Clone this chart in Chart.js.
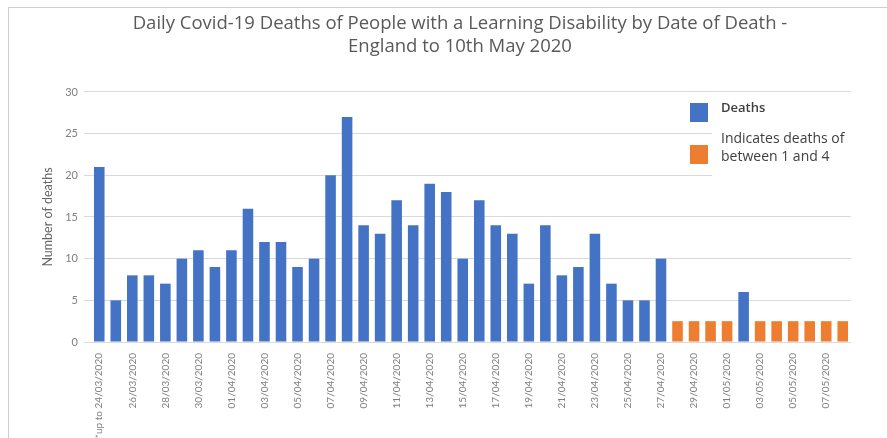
<!DOCTYPE html>
<html>
<head>
<meta charset="utf-8">
<script src="https://cdn.jsdelivr.net/npm/chart.js@4.4.1/dist/chart.umd.min.js"></script>
<style>
  html, body { margin:0; padding:0; background:#fff; }
  #wrap { position:relative; width:887px; height:438px; overflow:hidden; }
  #chart { position:absolute; left:0; top:0; }
  .frame-top { position:absolute; left:8px; top:7px; width:879px; height:1px; background:#cfcfcf; }
  .frame-left { position:absolute; left:8px; top:7px; width:1px; height:431px; background:#cfcfcf; }
  #legend { position:absolute; left:712px; top:95px; width:165px; height:95px; background:#fff;
            font-family:'Open Sans', Lato, sans-serif; font-size:14px; color:#404040; }
  #legend .item { position:absolute; left:9px; line-height:18px; }
  #legend .sw { position:absolute; left:-31px; width:18px; height:19px; }
</style>
</head>
<body>
<div id="wrap">
  <canvas id="chart" width="887" height="438"></canvas>
  <div class="frame-top"></div>
  <div class="frame-left"></div>
  <div id="legend"></div>
</div>
<script>
// ---- data ----
const days = [
  '*up to 24/03/2020','25/03/2020','26/03/2020','27/03/2020','28/03/2020','29/03/2020','30/03/2020','31/03/2020',
  '01/04/2020','02/04/2020','03/04/2020','04/04/2020','05/04/2020','06/04/2020','07/04/2020','08/04/2020',
  '09/04/2020','10/04/2020','11/04/2020','12/04/2020','13/04/2020','14/04/2020','15/04/2020','16/04/2020',
  '17/04/2020','18/04/2020','19/04/2020','20/04/2020','21/04/2020','22/04/2020','23/04/2020','24/04/2020',
  '25/04/2020','26/04/2020','27/04/2020','28/04/2020','29/04/2020','30/04/2020','01/05/2020','02/05/2020',
  '03/05/2020','04/05/2020','05/05/2020','06/05/2020','07/05/2020','08/05/2020'
];
const deaths = [
  21, 5, 8, 8, 7, 10, 11, 9,
  11, 16, 12, 12, 9, 10, 20, 27,
  14, 13, 17, 14, 19, 18, 10, 17,
  14, 13, 7, 14, 8, 9, 13, 7,
  5, 5, 10, null, null, null, null, 6,
  null, null, null, null, null, null
];
// suppressed days (1-4 deaths) drawn as a fixed marker height
const smallDays = [
  null, null, null, null, null, null, null, null,
  null, null, null, null, null, null, null, null,
  null, null, null, null, null, null, null, null,
  null, null, null, null, null, null, null, null,
  null, null, null, 2.5, 2.5, 2.5, 2.5, null,
  2.5, 2.5, 2.5, 2.5, 2.5, 2.5
];
const yTicks = [0, 5, 10, 15, 20, 25, 30];

const BLUE = '#4472C4', ORANGE = '#ED7D31';
const FONT = "'Open Sans', Lato, sans-serif";

const ds = [
  { label:'Deaths', data:deaths, backgroundColor:BLUE },
  { label:'Indicates deaths of between 1 and 4', data:smallDays, backgroundColor:ORANGE }
];

new Chart(document.getElementById('chart'), {
  type: 'bar',
  data: { labels: days, datasets: ds.map(d => ({ ...d, categoryPercentage:1, barPercentage:0.64 })) },
  options: {
    responsive:false, animation:false,
    layout: { padding: { top:8, right:0, bottom:0, left:33 } },
    plugins: {
      legend: { display:false },
      tooltip: { enabled:false },
      title: {
        display:true,
        text:['Daily Covid-19 Deaths of People with a Learning Disability by Date of Death -', 'England to 10th May 2020'],
        color:'#595959', font:{ family:FONT, size:18.5, weight:'normal', lineHeight:1.243 },
        padding:{ top:4, bottom:34 }
      }
    },
    scales: {
      x: {
        stacked:true,
        grid:{ display:false },
        border:{ display:false },
        ticks:{
          autoSkip:false, maxRotation:90, minRotation:90, padding:3,
          color:'#7f7f7f', font:{ family:"Lato, sans-serif", size:10 },
          callback:(v, i) => i % 2 === 0 ? days[i] : ''
        },
        afterFit: s => { s.height = 96; }
      },
      y: {
        stacked:true, min:0, max:30,
        afterBuildTicks: s => { s.ticks = yTicks.map(v => ({ value:v })); },
        grid:{ color:'#d9d9d9', drawTicks:true, tickLength:7 },
        border:{ display:false },
        ticks:{ padding:6, color:'#7f7f7f', font:{ family:"Lato, sans-serif", size:11 } },
        title:{ display:true, text:'Number of deaths', color:'#666666',
                font:{ family:"Lato, sans-serif", size:12.5 }, padding:{ top:7, bottom:0 } },
        afterFit: s => { s.width = 58; }
      },
      // empty right-hand box: keeps the plot right edge where the original has it
      yPad: {
        position:'right', display:true,
        grid:{ display:false }, border:{ display:false }, ticks:{ display:false },
        afterFit: s => { s.width = 36; }
      }
    }
  }
});

// legend overlay built from the datasets
const lg = document.getElementById('legend');
const pos = [{ top:3, sw:8, html:ds[0].label, weight:'600', size:'13px' },
             { top:34, sw:50, html:'Indicates deaths of<br>between 1 and 4', weight:'normal', size:'14px' }];
ds.forEach((d, i) => {
  const it = document.createElement('div');
  it.className = 'item';
  it.style.top = pos[i].top + 'px';
  it.style.fontWeight = pos[i].weight;
  it.style.fontSize = pos[i].size;
  it.innerHTML = '<span class="sw" style="background:' + d.backgroundColor + ';top:' + (pos[i].sw - pos[i].top) + 'px"></span>' + pos[i].html;
  lg.appendChild(it);
});
</script>
</body>
</html>
